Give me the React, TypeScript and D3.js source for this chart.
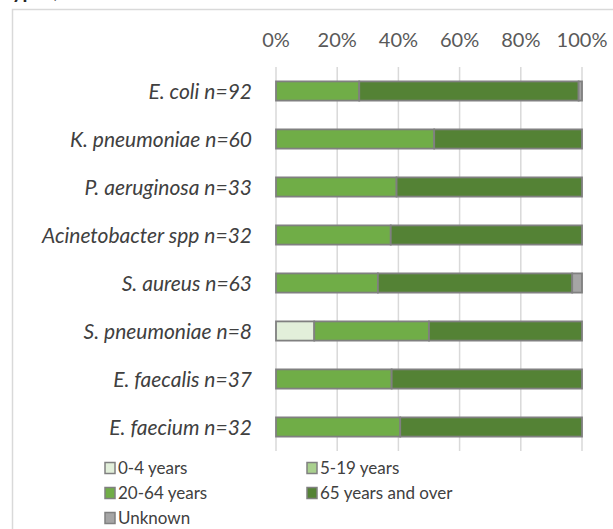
import React from "react";
import * as d3 from "d3";

const categories = [
  "E. coli n=92",
  "K. pneumoniae n=60",
  "P. aeruginosa n=33",
  "Acinetobacter spp n=32",
  "S. aureus n=63",
  "S. pneumoniae n=8",
  "E. faecalis n=37",
  "E. faecium n=32",
];
const age0to4 = [0, 0, 0, 0, 0, 12.5, 0, 0];
const age5to19 = [0, 0, 0, 0, 0, 0, 0, 0];
const age20to64 = [27.2, 51.7, 39.4, 37.5, 33.3, 37.5, 37.8, 40.6];
const age65plus = [71.7, 48.3, 60.6, 62.5, 63.5, 50.0, 62.2, 59.4];
const unknown = [1.1, 0, 0, 0, 3.2, 0, 0, 0];
const seriesNames = ["0-4 years", "5-19 years", "20-64 years", "65 years and over", "Unknown"];
const tickValues = [0, 20, 40, 60, 80, 100];

const colors = ["#e2efda", "#a9d08e", "#70ad47", "#548235", "#a5a5a5"];
const FONT = "Lato, 'Open Sans', sans-serif";

export default function App() {
  const W = 613, H = 529;
  const x = d3.scaleLinear().domain([0, 100]).range([276, 582]);
  const y = d3.scaleBand<string>().domain(categories).range([67, 451]).paddingInner(0.6).paddingOuter(0.3);
  const rows = categories.map((c, i) => ({
    cat: c,
    s0: age0to4[i], s1: age5to19[i], s2: age20to64[i], s3: age65plus[i], s4: unknown[i],
  }));
  const keys = ["s0", "s1", "s2", "s3", "s4"];
  const stacked = d3.stack<any>().keys(keys)(rows);

  const legendItems = seriesNames.map((n, i) => ({
    name: n,
    color: colors[i],
    col: i % 2,
    row: Math.floor(i / 2),
  }));

  return (
    <svg width={W} height={H} style={{ position: "absolute", left: 0, top: 0, background: "#fff" }} fontFamily={FONT}>
      <rect x={0} y={0} width={W} height={H} fill="#fff" />
      <text x={12} y={-2} fontSize={20} fontWeight="bold" fill="#262626">ypes, 2019</text>
      <path d={`M12.5,${H} V9.5 H${W}`} fill="none" stroke="#d9d9d9" strokeWidth={1.5} />
      {tickValues.map((t) => (
        <g key={t}>
          <line x1={x(t)} x2={x(t)} y1={67} y2={451} stroke="#d9d9d9" strokeWidth={1.5} />
          <text x={x(t)} y={47} textAnchor="middle" fontSize={20} fill="#595959">{t}%</text>
        </g>
      ))}
      {stacked.map((layer, li) => (
        <g key={li}>
          {layer.map((d: any, i: number) =>
            d[1] - d[0] > 0 ? (
              <rect
                key={i}
                x={x(d[0])}
                y={y(categories[i])!}
                width={x(d[1]) - x(d[0])}
                height={y.bandwidth()}
                fill={colors[li]}
                stroke="#808080"
                strokeWidth={1.8}
              />
            ) : null
          )}
        </g>
      ))}
      {categories.map((c) => (
        <text key={c} x={252} y={y(c)! + y.bandwidth() / 2 + 7.5} textAnchor="end" fontSize={21} fontStyle="italic" fill="#404040">{c}</text>
      ))}
      {legendItems.map((l) => {
        const lx = l.col === 0 ? 105 : 307;
        const ly = 468 + l.row * 25;
        return (
          <g key={l.name}>
            <rect x={lx} y={ly - 5.5} width={10} height={11} fill={l.color} stroke="#808080" strokeWidth={1.5} />
            <text x={lx + 13} y={ly + 6} fontSize={17} fill="#404040">{l.name}</text>
          </g>
        );
      })}
    </svg>
  );
}
